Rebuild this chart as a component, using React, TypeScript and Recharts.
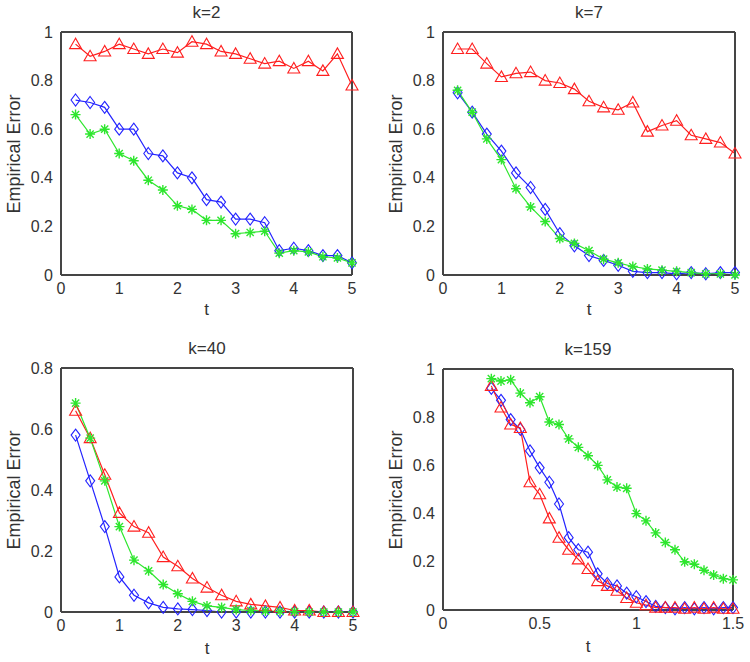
import { LineChart, Line, XAxis, YAxis } from "recharts";

const FONT = '"Liberation Sans", Arial, sans-serif';
const AXIS = "#454545";
const TXT = "#333";
const RED = "#ff1f1f";
const BLUE = "#2424ff";
const GREEN = "#2ee62e";

// time grids
const T5 = [0.25, 0.5, 0.75, 1, 1.25, 1.5, 1.75, 2, 2.25, 2.5, 2.75, 3, 3.25, 3.5, 3.75, 4, 4.25, 4.5, 4.75, 5];
const T15 = [
  0.25, 0.3, 0.35, 0.4, 0.45, 0.5, 0.55, 0.6, 0.65, 0.7, 0.75, 0.8, 0.85, 0.9, 0.95, 1, 1.05, 1.1, 1.15, 1.2,
  1.25, 1.3, 1.35, 1.4, 1.45, 1.5,
];

// k=2
const K2_RED = [0.95, 0.9, 0.92, 0.95, 0.93, 0.91, 0.93, 0.915, 0.96, 0.95, 0.92, 0.91, 0.89, 0.87, 0.88, 0.85, 0.88, 0.84, 0.91, 0.78];
const K2_BLUE = [0.72, 0.71, 0.69, 0.6, 0.6, 0.5, 0.49, 0.42, 0.4, 0.31, 0.3, 0.23, 0.23, 0.215, 0.1, 0.11, 0.1, 0.08, 0.08, 0.05];
const K2_GREEN = [0.66, 0.58, 0.6, 0.5, 0.47, 0.39, 0.35, 0.285, 0.27, 0.225, 0.225, 0.17, 0.175, 0.18, 0.09, 0.1, 0.095, 0.075, 0.07, 0.05];

// k=7
const K7_RED = [0.93, 0.93, 0.87, 0.815, 0.83, 0.835, 0.8, 0.79, 0.765, 0.715, 0.69, 0.68, 0.71, 0.59, 0.615, 0.635, 0.575, 0.56, 0.545, 0.5];
const K7_BLUE = [0.75, 0.67, 0.58, 0.51, 0.42, 0.36, 0.27, 0.17, 0.12, 0.08, 0.06, 0.04, 0.015, 0.01, 0.01, 0.005, 0.01, 0.005, 0.01, 0.01];
const K7_GREEN = [0.76, 0.67, 0.56, 0.475, 0.355, 0.28, 0.22, 0.15, 0.13, 0.1, 0.065, 0.05, 0.035, 0.025, 0.02, 0.015, 0.01, 0.005, 0.005, 0];

// k=40
const K40_RED = [0.66, 0.57, 0.45, 0.325, 0.28, 0.26, 0.18, 0.15, 0.11, 0.08, 0.055, 0.035, 0.025, 0.02, 0.015, 0.005, 0.005, 0, 0, 0];
const K40_BLUE = [0.58, 0.43, 0.28, 0.115, 0.055, 0.03, 0.015, 0.01, 0.008, 0.005, 0, 0, 0, 0, 0, 0, 0, 0, 0, 0];
const K40_GREEN = [0.685, 0.57, 0.43, 0.28, 0.17, 0.135, 0.09, 0.06, 0.035, 0.02, 0.015, 0.008, 0.005, 0.003, 0.002, 0.001, 0, 0, 0, 0];

// k=159
const K159_RED = [
  0.93, 0.84, 0.77, 0.755, 0.53, 0.48, 0.38, 0.3, 0.25, 0.21, 0.17, 0.12, 0.1, 0.08, 0.05, 0.03, 0.02, 0.01, 0.01, 0.01,
  0.005, 0.01, 0.005, 0.01, 0.005, 0.005,
];
const K159_BLUE = [
  0.92, 0.87, 0.79, 0.75, 0.66, 0.59, 0.53, 0.44, 0.3, 0.25, 0.24, 0.15, 0.11, 0.1, 0.07, 0.055, 0.035, 0.015, 0.01, 0.005,
  0.01, 0.005, 0.01, 0.005, 0.01, 0.01,
];
const K159_GREEN = [
  0.96, 0.95, 0.955, 0.9, 0.86, 0.885, 0.78, 0.77, 0.71, 0.675, 0.64, 0.6, 0.54, 0.51, 0.505, 0.4, 0.37, 0.32, 0.28, 0.25,
  0.2, 0.19, 0.165, 0.145, 0.13, 0.125,
];

const TICKS_X5 = [0, 1, 2, 3, 4, 5];
const TICKS_X15 = [0, 0.5, 1, 1.5];
const TICKS_Y1 = [0, 0.2, 0.4, 0.6, 0.8, 1];
const TICKS_Y08 = [0, 0.2, 0.4, 0.6, 0.8];

function rows(t: number[], red: number[], blue: number[], green: number[]) {
  return t.map((v, i) => ({ t: v, red: red[i], blue: blue[i], green: green[i] }));
}

function Triangle({ cx, cy }: any) {
  if (cx == null || cy == null) return null;
  return (
    <polygon
      points={`${cx},${cy - 6} ${cx - 6},${cy + 4.5} ${cx + 6},${cy + 4.5}`}
      fill="none"
      stroke={RED}
      strokeWidth={1.1}
    />
  );
}

function Diamond({ cx, cy }: any) {
  if (cx == null || cy == null) return null;
  return (
    <polygon
      points={`${cx},${cy - 6} ${cx + 4.5},${cy} ${cx},${cy + 6} ${cx - 4.5},${cy}`}
      fill="none"
      stroke={BLUE}
      strokeWidth={1.1}
    />
  );
}

function Star({ cx, cy }: any) {
  if (cx == null || cy == null) return null;
  const r = 5;
  const d = 3.6;
  return (
    <path
      d={`M${cx - r},${cy}H${cx + r}M${cx},${cy - r}V${cy + r}M${cx - d},${cy - d}L${cx + d},${cy + d}M${cx - d},${cy + d}L${cx + d},${cy - d}`}
      stroke={GREEN}
      strokeWidth={1.4}
    />
  );
}

type PanelProps = {
  title: string;
  data: { t: number; red: number; blue: number; green: number }[];
  xMax: number;
  yMax: number;
  xTicks: number[];
  yTicks: number[];
  left: number;
  top: number;
  w: number;
  h: number;
  pl: number;
  pt: number;
  pr: number;
  pb: number;
  gap: number;
};

function Panel(p: PanelProps) {
  const labelAxis = 50;
  const tickFont = { fill: TXT, fontSize: 16, fontFamily: FONT };
  const xDomain = [0, p.xMax];
  const yDomain = [0, p.yMax];
  return (
    <div style={{ position: "absolute", left: p.left, top: p.top, width: p.w, height: p.h }}>
      <LineChart
        width={p.w}
        height={p.h}
        data={p.data}
        margin={{ top: p.pt, right: p.w - p.pr, left: p.pl - labelAxis, bottom: p.h - p.pb - p.gap }}
      >
        <XAxis
          xAxisId="b"
          type="number"
          dataKey="t"
          domain={xDomain}
          ticks={p.xTicks}
          interval={0}
          stroke={AXIS}
          axisLine={{ strokeWidth: 2 }}
          tickLine={false}
          tickSize={0}
          tickMargin={8}
          tick={tickFont}
          height={p.gap}
        />
        <XAxis
          xAxisId="bm"
          type="number"
          dataKey="t"
          domain={xDomain}
          allowDataOverflow
          ticks={p.xTicks}
          interval={0}
          orientation="bottom"
          mirror
          stroke={AXIS}
          axisLine={false}
          tick={false}
          tickSize={5}
        />
        <XAxis
          xAxisId="tm"
          type="number"
          dataKey="t"
          domain={xDomain}
          allowDataOverflow
          ticks={p.xTicks}
          interval={0}
          orientation="top"
          mirror
          stroke={AXIS}
          axisLine={{ strokeWidth: 2 }}
          tick={false}
          tickSize={5}
        />
        <YAxis
          yAxisId="l"
          type="number"
          domain={yDomain}
          ticks={p.yTicks}
          interval={0}
          stroke={AXIS}
          axisLine={{ strokeWidth: 2 }}
          tickLine={false}
          tickSize={0}
          tickMargin={8}
          tick={tickFont}
          width={labelAxis}
        />
        <YAxis
          yAxisId="lm"
          type="number"
          domain={yDomain}
          allowDataOverflow
          ticks={p.yTicks}
          interval={0}
          orientation="left"
          mirror
          stroke={AXIS}
          axisLine={false}
          tick={false}
          tickSize={5}
        />
        <YAxis
          yAxisId="rm"
          type="number"
          domain={yDomain}
          allowDataOverflow
          ticks={p.yTicks}
          interval={0}
          orientation="right"
          mirror
          stroke={AXIS}
          axisLine={{ strokeWidth: 2 }}
          tick={false}
          tickSize={5}
        />
        <Line
          xAxisId="b"
          yAxisId="l"
          type="linear"
          dataKey="blue"
          stroke={BLUE}
          strokeWidth={1.2}
          dot={(d: any) => <Diamond key={`d${d.index}`} cx={d.cx} cy={d.cy} />}
          activeDot={false}
          isAnimationActive={false}
        />
        <Line
          xAxisId="b"
          yAxisId="l"
          type="linear"
          dataKey="red"
          stroke={RED}
          strokeWidth={1.2}
          dot={(d: any) => <Triangle key={`r${d.index}`} cx={d.cx} cy={d.cy} />}
          activeDot={false}
          isAnimationActive={false}
        />
        <Line
          xAxisId="b"
          yAxisId="l"
          type="linear"
          dataKey="green"
          stroke={GREEN}
          strokeWidth={1.2}
          dot={(d: any) => <Star key={`g${d.index}`} cx={d.cx} cy={d.cy} />}
          activeDot={false}
          isAnimationActive={false}
        />
      </LineChart>
      <div
        style={{
          position: "absolute",
          left: p.pl,
          width: p.pr - p.pl,
          top: p.pt - 14 - 14.4,
          textAlign: "center",
          fontFamily: FONT,
          fontSize: 17,
          lineHeight: "17px",
          color: TXT,
        }}
      >
        {p.title}
      </div>
      <div
        style={{
          position: "absolute",
          left: p.pl,
          width: p.pr - p.pl,
          top: p.pb + p.gap - 14.4,
          textAlign: "center",
          fontFamily: FONT,
          fontSize: 17,
          lineHeight: "17px",
          color: TXT,
        }}
      >
        t
      </div>
      <div
        style={{
          position: "absolute",
          left: p.pl - 47,
          top: (p.pt + p.pb) / 2,
          transform: "translate(-50%, -50%) rotate(-90deg)",
          whiteSpace: "nowrap",
          fontFamily: FONT,
          fontSize: 18,
          lineHeight: "18px",
          color: TXT,
        }}
      >
        Empirical Error
      </div>
    </div>
  );
}

export default function App() {
  return (
    <div style={{ position: "absolute", left: 0, top: 0, width: 750, height: 662, background: "#fff", overflow: "hidden" }}>
      <Panel
        title="k=2"
        data={rows(T5, K2_RED, K2_BLUE, K2_GREEN)}
        xMax={5}
        yMax={1}
        xTicks={TICKS_X5}
        yTicks={TICKS_Y1}
        left={0}
        top={0}
        w={375}
        h={331}
        pl={61}
        pt={32}
        pr={352}
        pb={275}
        gap={40}
      />
      <Panel
        title="k=7"
        data={rows(T5, K7_RED, K7_BLUE, K7_GREEN)}
        xMax={5}
        yMax={1}
        xTicks={TICKS_X5}
        yTicks={TICKS_Y1}
        left={375}
        top={0}
        w={375}
        h={331}
        pl={68}
        pt={32}
        pr={360}
        pb={275}
        gap={40}
      />
      <Panel
        title="k=40"
        data={rows(T5, K40_RED, K40_BLUE, K40_GREEN)}
        xMax={5}
        yMax={0.8}
        xTicks={TICKS_X5}
        yTicks={TICKS_Y08}
        left={0}
        top={331}
        w={375}
        h={331}
        pl={61}
        pt={37}
        pr={353}
        pb={281}
        gap={42}
      />
      <Panel
        title="k=159"
        data={rows(T15, K159_RED, K159_BLUE, K159_GREEN)}
        xMax={1.5}
        yMax={1}
        xTicks={TICKS_X15}
        yTicks={TICKS_Y1}
        left={375}
        top={331}
        w={375}
        h={331}
        pl={68}
        pt={38}
        pr={358}
        pb={279}
        gap={42}
      />
    </div>
  );
}
